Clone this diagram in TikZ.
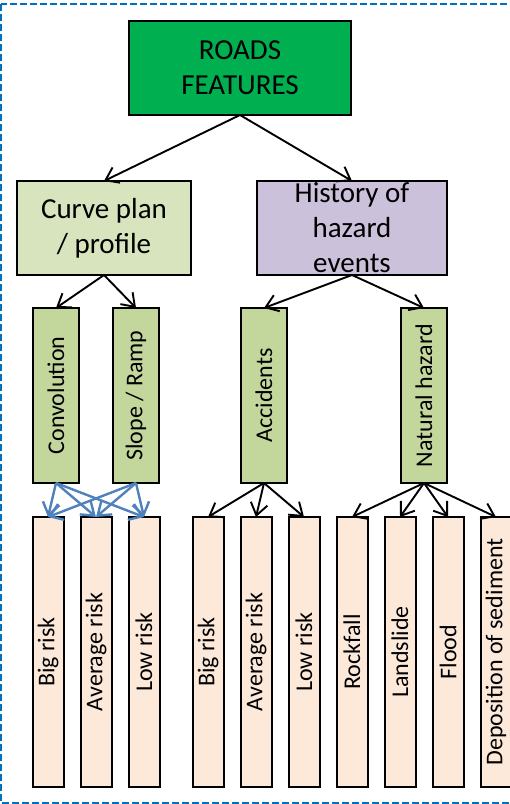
\documentclass[tikz,border=0pt]{standalone}
\usepackage{graphicx}
\usepackage{fontspec}
\setmainfont{Carlito}
\usepackage{tikz}
\usetikzlibrary{positioning,arrows.meta}
\definecolor{rootc}{RGB}{0,176,80}
\definecolor{planc}{RGB}{215,228,189}
\definecolor{histc}{RGB}{204,193,218}
\definecolor{critc}{RGB}{195,214,155}
\definecolor{riskc}{RGB}{253,233,217}
\definecolor{framec}{RGB}{0,112,192}
\definecolor{linkc}{RGB}{79,129,189}

\begin{document}
\begin{tikzpicture}[x=1pt,y=1pt,>={Straight Barb[length=12pt,width=17pt]},
  box/.style={draw,line width=2pt,align=center,inner sep=0pt,outer sep=0pt,font=\fontsize{29}{35}\selectfont},
  rootbox/.style={box,fill=rootc,minimum width=222pt,minimum height=94pt},
  groupbox/.style={box,minimum width=#1,minimum height=94pt},
  critbox/.style={box,fill=critc,minimum width=46pt,minimum height=175pt,font=\fontsize{24}{28}\selectfont},
  riskbox/.style={box,fill=riskc,minimum width=31pt,minimum height=270pt,font=\fontsize{24}{28}\selectfont},
  arr/.style={->,line width=1.9pt},
  blu/.style={->,line width=2.4pt,draw=linkc}]
  \useasboundingbox (0,0) rectangle (510,-804);
  \draw[framec,line width=2pt,dash pattern=on 7pt off 3pt] (1,-4) rectangle (530,-803);
  % top and groups
  \node[rootbox] (road) at (240,-68) {ROADS\\FEATURES};
  \node[groupbox=174pt,fill=planc] (curve) at (104,-228) {Curve plan\\/ profile};
  \node[groupbox=190pt,fill=histc,right=66pt of curve] (hist) {History of\\hazard\\events};
  % criteria
  \node[critbox] (conv) at (56,-395.5) {\rotatebox{90}{Convolution}};
  \node[critbox,right=34pt of conv] (slope) {\rotatebox{90}{Slope / Ramp}};
  \node[critbox,right=82pt of slope] (acc) {\rotatebox{90}{Accidents}};
  \node[critbox,right=114pt of acc] (nat) {\rotatebox{90}{Natural hazard}};
  % leaves
  \node[riskbox] (big) at (48,-652) {\rotatebox{90}{Big risk}};
  \node[riskbox,right=17pt of big] (avg) {\rotatebox{90}{Average risk}};
  \node[riskbox,right=17pt of avg] (low) {\rotatebox{90}{Low risk}};
  \node[riskbox,right=33pt of low] (bigb) {\rotatebox{90}{Big risk}};
  \node[riskbox,right=17pt of bigb] (avgb) {\rotatebox{90}{Average risk}};
  \node[riskbox,right=17pt of avgb] (lowb) {\rotatebox{90}{Low risk}};
  \node[riskbox,right=17pt of lowb] (rock) {\rotatebox{90}{Rockfall}};
  \node[riskbox,right=17pt of rock] (land) {\rotatebox{90}{Landslide}};
  \node[riskbox,right=17pt of land] (flood) {\rotatebox{90}{Flood}};
  \node[riskbox,right=17pt of flood] (dep) {\rotatebox{90}{Deposition of sediment}};
  % links
  \draw[arr] (road.south)--(curve.north); \draw[arr] (road.south)--(hist.north);
  \draw[arr] (curve.south)--(conv.north); \draw[arr] (curve.south)--(slope.north);
  \draw[arr] (hist.south)--(acc.north); \draw[arr] (hist.south)--(nat.north);
  \draw[blu] (conv.south)--(big.north); \draw[blu] (conv.south)--(avg.north);
  \draw[blu] (conv.south)--(low.north);
  \draw[blu] (slope.south)--(big.north); \draw[blu] (slope.south)--(avg.north);
  \draw[blu] (slope.south)--(low.north);
  \draw[arr] (acc.south)--(bigb.north); \draw[arr] (acc.south)--(avgb.north);
  \draw[arr] (acc.south)--(lowb.north);
  \draw[arr] (nat.south)--(rock.north); \draw[arr] (nat.south)--(land.north);
  \draw[arr] (nat.south)--(flood.north); \draw[arr] (nat.south)--(dep.north);
\end{tikzpicture}
\end{document}
